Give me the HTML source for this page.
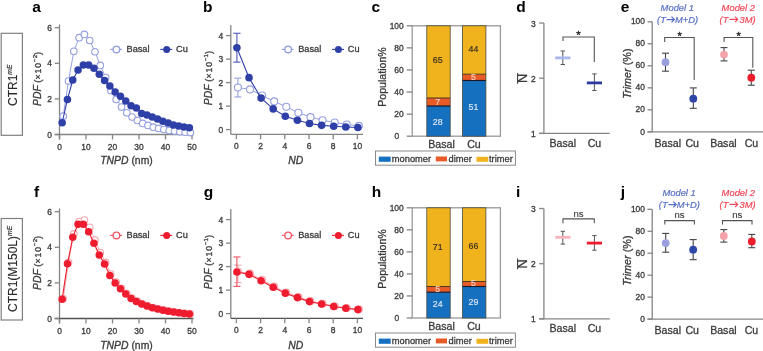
<!DOCTYPE html>
<html><head><meta charset="utf-8"><style>
html,body{margin:0;padding:0;background:#fff;width:763px;height:351px;overflow:hidden;}
svg{display:block;filter:blur(0.35px);font-family:"Liberation Sans", sans-serif;}
</style></head><body>
<svg width="763" height="351" viewBox="0 0 763 351" font-family='"Liberation Sans", sans-serif'>
<rect width="763" height="351" fill="#fff"/>
<rect x="1.2" y="33.3" width="21.2" height="102" fill="none" stroke="#808080" stroke-width="1.2"/>
<text transform="translate(16.90,85.20) rotate(-90)" font-size="12" text-anchor="middle" fill="#2a2a2a" stroke="#2a2a2a" stroke-width="0.15">CTR1<tspan dy="-4.6" font-size="6.8" font-style="italic">mE</tspan></text>
<rect x="1.2" y="218.5" width="21.2" height="101.5" fill="none" stroke="#808080" stroke-width="1.2"/>
<text transform="translate(16.90,268.90) rotate(-90)" font-size="12" text-anchor="middle" fill="#2a2a2a" stroke="#2a2a2a" stroke-width="0.15">CTR1(M150L)<tspan dy="-4.6" font-size="6.8" font-style="italic">mE</tspan></text>
<text x="36.5" y="11.6" font-size="15.5" text-anchor="middle" fill="#000" font-weight="bold">a</text>
<text x="207.7" y="11.6" font-size="15.5" text-anchor="middle" fill="#000" font-weight="bold">b</text>
<text x="375.7" y="11.6" font-size="15.5" text-anchor="middle" fill="#000" font-weight="bold">c</text>
<text x="520.9" y="11.6" font-size="15.5" text-anchor="middle" fill="#000" font-weight="bold">d</text>
<text x="625" y="11.6" font-size="15.5" text-anchor="middle" fill="#000" font-weight="bold">e</text>
<text x="36.7" y="196.7" font-size="15.5" text-anchor="middle" fill="#000" font-weight="bold">f</text>
<text x="208.4" y="196.7" font-size="15.5" text-anchor="middle" fill="#000" font-weight="bold">g</text>
<text x="376.4" y="196.7" font-size="15.5" text-anchor="middle" fill="#000" font-weight="bold">h</text>
<text x="518.2" y="196.7" font-size="15.5" text-anchor="middle" fill="#000" font-weight="bold">i</text>
<text x="622.8" y="196.7" font-size="15.5" text-anchor="middle" fill="#000" font-weight="bold">j</text>
<line x1="59.50" y1="24.50" x2="59.50" y2="139.50" stroke="#858585" stroke-width="1.3"/>
<line x1="54.70" y1="134.50" x2="193.50" y2="134.50" stroke="#858585" stroke-width="1.3"/>
<line x1="54.70" y1="134.50" x2="59.50" y2="134.50" stroke="#858585" stroke-width="1.3"/>
<text transform="translate(52.00,137.60) scale(0.87,1)" font-size="9.7" text-anchor="end" fill="#3c3c3c" stroke="#3c3c3c" stroke-width="0.35">0</text>
<line x1="54.70" y1="98.90" x2="59.50" y2="98.90" stroke="#858585" stroke-width="1.3"/>
<text transform="translate(52.00,102.00) scale(0.87,1)" font-size="9.7" text-anchor="end" fill="#3c3c3c" stroke="#3c3c3c" stroke-width="0.35">2</text>
<line x1="54.70" y1="63.30" x2="59.50" y2="63.30" stroke="#858585" stroke-width="1.3"/>
<text transform="translate(52.00,66.40) scale(0.87,1)" font-size="9.7" text-anchor="end" fill="#3c3c3c" stroke="#3c3c3c" stroke-width="0.35">4</text>
<line x1="54.70" y1="27.70" x2="59.50" y2="27.70" stroke="#858585" stroke-width="1.3"/>
<text transform="translate(52.00,30.80) scale(0.87,1)" font-size="9.7" text-anchor="end" fill="#3c3c3c" stroke="#3c3c3c" stroke-width="0.35">6</text>
<line x1="59.50" y1="134.50" x2="59.50" y2="139.50" stroke="#858585" stroke-width="1.3"/>
<text transform="translate(59.50,149.60) scale(0.87,1)" font-size="9.7" text-anchor="middle" fill="#3c3c3c" stroke="#3c3c3c" stroke-width="0.35">0</text>
<line x1="86.00" y1="134.50" x2="86.00" y2="139.50" stroke="#858585" stroke-width="1.3"/>
<text transform="translate(86.00,149.60) scale(0.87,1)" font-size="9.7" text-anchor="middle" fill="#3c3c3c" stroke="#3c3c3c" stroke-width="0.35">10</text>
<line x1="112.50" y1="134.50" x2="112.50" y2="139.50" stroke="#858585" stroke-width="1.3"/>
<text transform="translate(112.50,149.60) scale(0.87,1)" font-size="9.7" text-anchor="middle" fill="#3c3c3c" stroke="#3c3c3c" stroke-width="0.35">20</text>
<line x1="139.00" y1="134.50" x2="139.00" y2="139.50" stroke="#858585" stroke-width="1.3"/>
<text transform="translate(139.00,149.60) scale(0.87,1)" font-size="9.7" text-anchor="middle" fill="#3c3c3c" stroke="#3c3c3c" stroke-width="0.35">30</text>
<line x1="165.50" y1="134.50" x2="165.50" y2="139.50" stroke="#858585" stroke-width="1.3"/>
<text transform="translate(165.50,149.60) scale(0.87,1)" font-size="9.7" text-anchor="middle" fill="#3c3c3c" stroke="#3c3c3c" stroke-width="0.35">40</text>
<line x1="192.00" y1="134.50" x2="192.00" y2="139.50" stroke="#858585" stroke-width="1.3"/>
<text transform="translate(192.00,149.60) scale(0.87,1)" font-size="9.7" text-anchor="middle" fill="#3c3c3c" stroke="#3c3c3c" stroke-width="0.35">50</text>
<text x="126.50" y="163.80" font-size="10.4" text-anchor="middle" fill="#3a3a3a" stroke="#3a3a3a" stroke-width="0.3"><tspan font-style="italic">TNPD</tspan> (nm)</text>
<text transform="translate(40.60,78.90) rotate(-90)" font-size="10.4" text-anchor="middle" fill="#3a3a3a" stroke="#3a3a3a" stroke-width="0.3"><tspan font-style="italic">PDF</tspan><tspan font-size="9.4"> (</tspan><tspan font-size="8.6" letter-spacing="1.0">×10</tspan><tspan dy="-3.4" font-size="6.2">−2</tspan><tspan dy="3.4" font-size="9.4">)</tspan></text>
<polyline points="63.21,116.17 68.51,81.10 73.81,51.37 79.11,37.67 84.41,34.46 89.71,40.52 95.01,51.73 100.31,65.44 105.61,77.54 110.91,90.53 116.21,99.43 121.51,107.09 126.81,112.78 132.11,117.06 137.41,120.44 142.71,123.46 148.01,125.42 153.31,127.20 158.61,128.45 163.91,129.52 169.21,130.58 174.51,131.12 179.81,131.83 185.11,132.19 190.41,132.54" fill="none" stroke="#959fe0" stroke-width="1.0"/>
<circle cx="63.21" cy="116.17" r="3.3" fill="#fff" stroke="#959fe0" stroke-width="1.1"/>
<circle cx="68.51" cy="81.10" r="3.3" fill="#fff" stroke="#959fe0" stroke-width="1.1"/>
<circle cx="73.81" cy="51.37" r="3.3" fill="#fff" stroke="#959fe0" stroke-width="1.1"/>
<circle cx="79.11" cy="37.67" r="3.3" fill="#fff" stroke="#959fe0" stroke-width="1.1"/>
<circle cx="84.41" cy="34.46" r="3.3" fill="#fff" stroke="#959fe0" stroke-width="1.1"/>
<circle cx="89.71" cy="40.52" r="3.3" fill="#fff" stroke="#959fe0" stroke-width="1.1"/>
<circle cx="95.01" cy="51.73" r="3.3" fill="#fff" stroke="#959fe0" stroke-width="1.1"/>
<circle cx="100.31" cy="65.44" r="3.3" fill="#fff" stroke="#959fe0" stroke-width="1.1"/>
<circle cx="105.61" cy="77.54" r="3.3" fill="#fff" stroke="#959fe0" stroke-width="1.1"/>
<circle cx="110.91" cy="90.53" r="3.3" fill="#fff" stroke="#959fe0" stroke-width="1.1"/>
<circle cx="116.21" cy="99.43" r="3.3" fill="#fff" stroke="#959fe0" stroke-width="1.1"/>
<circle cx="121.51" cy="107.09" r="3.3" fill="#fff" stroke="#959fe0" stroke-width="1.1"/>
<circle cx="126.81" cy="112.78" r="3.3" fill="#fff" stroke="#959fe0" stroke-width="1.1"/>
<circle cx="132.11" cy="117.06" r="3.3" fill="#fff" stroke="#959fe0" stroke-width="1.1"/>
<circle cx="137.41" cy="120.44" r="3.3" fill="#fff" stroke="#959fe0" stroke-width="1.1"/>
<circle cx="142.71" cy="123.46" r="3.3" fill="#fff" stroke="#959fe0" stroke-width="1.1"/>
<circle cx="148.01" cy="125.42" r="3.3" fill="#fff" stroke="#959fe0" stroke-width="1.1"/>
<circle cx="153.31" cy="127.20" r="3.3" fill="#fff" stroke="#959fe0" stroke-width="1.1"/>
<circle cx="158.61" cy="128.45" r="3.3" fill="#fff" stroke="#959fe0" stroke-width="1.1"/>
<circle cx="163.91" cy="129.52" r="3.3" fill="#fff" stroke="#959fe0" stroke-width="1.1"/>
<circle cx="169.21" cy="130.58" r="3.3" fill="#fff" stroke="#959fe0" stroke-width="1.1"/>
<circle cx="174.51" cy="131.12" r="3.3" fill="#fff" stroke="#959fe0" stroke-width="1.1"/>
<circle cx="179.81" cy="131.83" r="3.3" fill="#fff" stroke="#959fe0" stroke-width="1.1"/>
<circle cx="185.11" cy="132.19" r="3.3" fill="#fff" stroke="#959fe0" stroke-width="1.1"/>
<circle cx="190.41" cy="132.54" r="3.3" fill="#fff" stroke="#959fe0" stroke-width="1.1"/>
<polyline points="62.15,122.75 67.45,99.43 72.75,80.03 78.05,70.06 83.35,65.08 88.65,65.08 93.95,68.28 99.25,74.34 104.55,80.57 109.85,86.08 115.15,91.96 120.45,96.23 125.75,101.04 131.05,105.66 136.35,107.98 141.65,113.50 146.95,114.92 152.25,117.06 157.55,119.01 162.85,121.15 168.15,122.93 173.45,124.89 178.75,125.96 184.05,127.02 189.35,127.74" fill="none" stroke="#2e3fa8" stroke-width="1.1"/>
<circle cx="62.15" cy="122.75" r="3.75" fill="#2e3fa8" stroke="none" stroke-width="0"/>
<circle cx="67.45" cy="99.43" r="3.75" fill="#2e3fa8" stroke="none" stroke-width="0"/>
<circle cx="72.75" cy="80.03" r="3.75" fill="#2e3fa8" stroke="none" stroke-width="0"/>
<circle cx="78.05" cy="70.06" r="3.75" fill="#2e3fa8" stroke="none" stroke-width="0"/>
<circle cx="83.35" cy="65.08" r="3.75" fill="#2e3fa8" stroke="none" stroke-width="0"/>
<circle cx="88.65" cy="65.08" r="3.75" fill="#2e3fa8" stroke="none" stroke-width="0"/>
<circle cx="93.95" cy="68.28" r="3.75" fill="#2e3fa8" stroke="none" stroke-width="0"/>
<circle cx="99.25" cy="74.34" r="3.75" fill="#2e3fa8" stroke="none" stroke-width="0"/>
<circle cx="104.55" cy="80.57" r="3.75" fill="#2e3fa8" stroke="none" stroke-width="0"/>
<circle cx="109.85" cy="86.08" r="3.75" fill="#2e3fa8" stroke="none" stroke-width="0"/>
<circle cx="115.15" cy="91.96" r="3.75" fill="#2e3fa8" stroke="none" stroke-width="0"/>
<circle cx="120.45" cy="96.23" r="3.75" fill="#2e3fa8" stroke="none" stroke-width="0"/>
<circle cx="125.75" cy="101.04" r="3.75" fill="#2e3fa8" stroke="none" stroke-width="0"/>
<circle cx="131.05" cy="105.66" r="3.75" fill="#2e3fa8" stroke="none" stroke-width="0"/>
<circle cx="136.35" cy="107.98" r="3.75" fill="#2e3fa8" stroke="none" stroke-width="0"/>
<circle cx="141.65" cy="113.50" r="3.75" fill="#2e3fa8" stroke="none" stroke-width="0"/>
<circle cx="146.95" cy="114.92" r="3.75" fill="#2e3fa8" stroke="none" stroke-width="0"/>
<circle cx="152.25" cy="117.06" r="3.75" fill="#2e3fa8" stroke="none" stroke-width="0"/>
<circle cx="157.55" cy="119.01" r="3.75" fill="#2e3fa8" stroke="none" stroke-width="0"/>
<circle cx="162.85" cy="121.15" r="3.75" fill="#2e3fa8" stroke="none" stroke-width="0"/>
<circle cx="168.15" cy="122.93" r="3.75" fill="#2e3fa8" stroke="none" stroke-width="0"/>
<circle cx="173.45" cy="124.89" r="3.75" fill="#2e3fa8" stroke="none" stroke-width="0"/>
<circle cx="178.75" cy="125.96" r="3.75" fill="#2e3fa8" stroke="none" stroke-width="0"/>
<circle cx="184.05" cy="127.02" r="3.75" fill="#2e3fa8" stroke="none" stroke-width="0"/>
<circle cx="189.35" cy="127.74" r="3.75" fill="#2e3fa8" stroke="none" stroke-width="0"/>
<line x1="110.00" y1="49.40" x2="122.00" y2="49.40" stroke="#959fe0" stroke-width="1.1"/>
<circle cx="116.40" cy="49.40" r="3.3" fill="#fff" stroke="#959fe0" stroke-width="1.4"/>
<text x="126.50" y="52.10" font-size="9.2" text-anchor="start" fill="#3a3a3a" stroke="#3a3a3a" stroke-width="0.3" font-weight="normal" font-style="normal">Basal</text>
<line x1="160.30" y1="49.40" x2="172.30" y2="49.40" stroke="#2e3fa8" stroke-width="1.1"/>
<circle cx="166.70" cy="49.40" r="3.5" fill="#2e3fa8" stroke="none" stroke-width="0"/>
<text x="176.10" y="52.10" font-size="9.2" text-anchor="start" fill="#3a3a3a" stroke="#3a3a3a" stroke-width="0.3" font-weight="normal" font-style="normal">Cu</text>
<line x1="59.50" y1="208.50" x2="59.50" y2="323.50" stroke="#858585" stroke-width="1.3"/>
<line x1="54.70" y1="318.50" x2="193.50" y2="318.50" stroke="#505050" stroke-width="1.3"/>
<line x1="54.70" y1="318.50" x2="59.50" y2="318.50" stroke="#858585" stroke-width="1.3"/>
<text transform="translate(52.00,321.60) scale(0.87,1)" font-size="9.7" text-anchor="end" fill="#3c3c3c" stroke="#3c3c3c" stroke-width="0.35">0</text>
<line x1="54.70" y1="282.90" x2="59.50" y2="282.90" stroke="#858585" stroke-width="1.3"/>
<text transform="translate(52.00,286.00) scale(0.87,1)" font-size="9.7" text-anchor="end" fill="#3c3c3c" stroke="#3c3c3c" stroke-width="0.35">2</text>
<line x1="54.70" y1="247.30" x2="59.50" y2="247.30" stroke="#858585" stroke-width="1.3"/>
<text transform="translate(52.00,250.40) scale(0.87,1)" font-size="9.7" text-anchor="end" fill="#3c3c3c" stroke="#3c3c3c" stroke-width="0.35">4</text>
<line x1="54.70" y1="211.70" x2="59.50" y2="211.70" stroke="#858585" stroke-width="1.3"/>
<text transform="translate(52.00,214.80) scale(0.87,1)" font-size="9.7" text-anchor="end" fill="#3c3c3c" stroke="#3c3c3c" stroke-width="0.35">6</text>
<line x1="59.50" y1="318.50" x2="59.50" y2="323.50" stroke="#858585" stroke-width="1.3"/>
<text transform="translate(59.50,333.60) scale(0.87,1)" font-size="9.7" text-anchor="middle" fill="#3c3c3c" stroke="#3c3c3c" stroke-width="0.35">0</text>
<line x1="86.00" y1="318.50" x2="86.00" y2="323.50" stroke="#858585" stroke-width="1.3"/>
<text transform="translate(86.00,333.60) scale(0.87,1)" font-size="9.7" text-anchor="middle" fill="#3c3c3c" stroke="#3c3c3c" stroke-width="0.35">10</text>
<line x1="112.50" y1="318.50" x2="112.50" y2="323.50" stroke="#858585" stroke-width="1.3"/>
<text transform="translate(112.50,333.60) scale(0.87,1)" font-size="9.7" text-anchor="middle" fill="#3c3c3c" stroke="#3c3c3c" stroke-width="0.35">20</text>
<line x1="139.00" y1="318.50" x2="139.00" y2="323.50" stroke="#858585" stroke-width="1.3"/>
<text transform="translate(139.00,333.60) scale(0.87,1)" font-size="9.7" text-anchor="middle" fill="#3c3c3c" stroke="#3c3c3c" stroke-width="0.35">30</text>
<line x1="165.50" y1="318.50" x2="165.50" y2="323.50" stroke="#858585" stroke-width="1.3"/>
<text transform="translate(165.50,333.60) scale(0.87,1)" font-size="9.7" text-anchor="middle" fill="#3c3c3c" stroke="#3c3c3c" stroke-width="0.35">40</text>
<line x1="192.00" y1="318.50" x2="192.00" y2="323.50" stroke="#858585" stroke-width="1.3"/>
<text transform="translate(192.00,333.60) scale(0.87,1)" font-size="9.7" text-anchor="middle" fill="#3c3c3c" stroke="#3c3c3c" stroke-width="0.35">50</text>
<text x="126.50" y="348.70" font-size="10.4" text-anchor="middle" fill="#3a3a3a" stroke="#3a3a3a" stroke-width="0.3"><tspan font-style="italic">TNPD</tspan> (nm)</text>
<text transform="translate(40.60,262.90) rotate(-90)" font-size="10.4" text-anchor="middle" fill="#3a3a3a" stroke="#3a3a3a" stroke-width="0.3"><tspan font-style="italic">PDF</tspan><tspan font-size="9.4"> (</tspan><tspan font-size="8.6" letter-spacing="1.0">×10</tspan><tspan dy="-3.4" font-size="6.2">−2</tspan><tspan dy="3.4" font-size="9.4">)</tspan></text>
<polyline points="63.21,298.56 68.51,262.43 73.81,233.95 79.11,221.49 84.41,220.07 89.71,227.36 95.01,240.18 100.31,252.64 105.61,262.43 110.91,274.00 116.21,282.01 121.51,288.24 126.81,293.58 132.11,298.03 137.41,301.06 142.71,303.73 148.01,305.86 153.31,307.64 158.61,308.89 163.91,309.96 169.21,311.02 174.51,311.91 179.81,312.63 185.11,313.34 190.41,313.87" fill="none" stroke="#f6a8b0" stroke-width="1.0"/>
<circle cx="63.21" cy="298.56" r="3.3" fill="#fff" stroke="#f6a8b0" stroke-width="1.1"/>
<circle cx="68.51" cy="262.43" r="3.3" fill="#fff" stroke="#f6a8b0" stroke-width="1.1"/>
<circle cx="73.81" cy="233.95" r="3.3" fill="#fff" stroke="#f6a8b0" stroke-width="1.1"/>
<circle cx="79.11" cy="221.49" r="3.3" fill="#fff" stroke="#f6a8b0" stroke-width="1.1"/>
<circle cx="84.41" cy="220.07" r="3.3" fill="#fff" stroke="#f6a8b0" stroke-width="1.1"/>
<circle cx="89.71" cy="227.36" r="3.3" fill="#fff" stroke="#f6a8b0" stroke-width="1.1"/>
<circle cx="95.01" cy="240.18" r="3.3" fill="#fff" stroke="#f6a8b0" stroke-width="1.1"/>
<circle cx="100.31" cy="252.64" r="3.3" fill="#fff" stroke="#f6a8b0" stroke-width="1.1"/>
<circle cx="105.61" cy="262.43" r="3.3" fill="#fff" stroke="#f6a8b0" stroke-width="1.1"/>
<circle cx="110.91" cy="274.00" r="3.3" fill="#fff" stroke="#f6a8b0" stroke-width="1.1"/>
<circle cx="116.21" cy="282.01" r="3.3" fill="#fff" stroke="#f6a8b0" stroke-width="1.1"/>
<circle cx="121.51" cy="288.24" r="3.3" fill="#fff" stroke="#f6a8b0" stroke-width="1.1"/>
<circle cx="126.81" cy="293.58" r="3.3" fill="#fff" stroke="#f6a8b0" stroke-width="1.1"/>
<circle cx="132.11" cy="298.03" r="3.3" fill="#fff" stroke="#f6a8b0" stroke-width="1.1"/>
<circle cx="137.41" cy="301.06" r="3.3" fill="#fff" stroke="#f6a8b0" stroke-width="1.1"/>
<circle cx="142.71" cy="303.73" r="3.3" fill="#fff" stroke="#f6a8b0" stroke-width="1.1"/>
<circle cx="148.01" cy="305.86" r="3.3" fill="#fff" stroke="#f6a8b0" stroke-width="1.1"/>
<circle cx="153.31" cy="307.64" r="3.3" fill="#fff" stroke="#f6a8b0" stroke-width="1.1"/>
<circle cx="158.61" cy="308.89" r="3.3" fill="#fff" stroke="#f6a8b0" stroke-width="1.1"/>
<circle cx="163.91" cy="309.96" r="3.3" fill="#fff" stroke="#f6a8b0" stroke-width="1.1"/>
<circle cx="169.21" cy="311.02" r="3.3" fill="#fff" stroke="#f6a8b0" stroke-width="1.1"/>
<circle cx="174.51" cy="311.91" r="3.3" fill="#fff" stroke="#f6a8b0" stroke-width="1.1"/>
<circle cx="179.81" cy="312.63" r="3.3" fill="#fff" stroke="#f6a8b0" stroke-width="1.1"/>
<circle cx="185.11" cy="313.34" r="3.3" fill="#fff" stroke="#f6a8b0" stroke-width="1.1"/>
<circle cx="190.41" cy="313.87" r="3.3" fill="#fff" stroke="#f6a8b0" stroke-width="1.1"/>
<polyline points="62.15,299.28 67.45,263.85 72.75,237.33 78.05,224.16 83.35,224.34 88.65,231.64 93.95,243.21 99.25,254.95 104.55,264.03 109.85,275.42 115.15,283.08 120.45,288.77 125.75,294.11 131.05,298.56 136.35,301.41 141.65,304.08 146.95,306.04 152.25,307.82 157.55,309.07 162.85,310.13 168.15,311.20 173.45,311.91 178.75,312.80 184.05,313.52 189.35,314.05" fill="none" stroke="#ee1c2e" stroke-width="1.1"/>
<circle cx="62.15" cy="299.28" r="3.75" fill="#ee1c2e" stroke="none" stroke-width="0"/>
<circle cx="67.45" cy="263.85" r="3.75" fill="#ee1c2e" stroke="none" stroke-width="0"/>
<circle cx="72.75" cy="237.33" r="3.75" fill="#ee1c2e" stroke="none" stroke-width="0"/>
<circle cx="78.05" cy="224.16" r="3.75" fill="#ee1c2e" stroke="none" stroke-width="0"/>
<circle cx="83.35" cy="224.34" r="3.75" fill="#ee1c2e" stroke="none" stroke-width="0"/>
<circle cx="88.65" cy="231.64" r="3.75" fill="#ee1c2e" stroke="none" stroke-width="0"/>
<circle cx="93.95" cy="243.21" r="3.75" fill="#ee1c2e" stroke="none" stroke-width="0"/>
<circle cx="99.25" cy="254.95" r="3.75" fill="#ee1c2e" stroke="none" stroke-width="0"/>
<circle cx="104.55" cy="264.03" r="3.75" fill="#ee1c2e" stroke="none" stroke-width="0"/>
<circle cx="109.85" cy="275.42" r="3.75" fill="#ee1c2e" stroke="none" stroke-width="0"/>
<circle cx="115.15" cy="283.08" r="3.75" fill="#ee1c2e" stroke="none" stroke-width="0"/>
<circle cx="120.45" cy="288.77" r="3.75" fill="#ee1c2e" stroke="none" stroke-width="0"/>
<circle cx="125.75" cy="294.11" r="3.75" fill="#ee1c2e" stroke="none" stroke-width="0"/>
<circle cx="131.05" cy="298.56" r="3.75" fill="#ee1c2e" stroke="none" stroke-width="0"/>
<circle cx="136.35" cy="301.41" r="3.75" fill="#ee1c2e" stroke="none" stroke-width="0"/>
<circle cx="141.65" cy="304.08" r="3.75" fill="#ee1c2e" stroke="none" stroke-width="0"/>
<circle cx="146.95" cy="306.04" r="3.75" fill="#ee1c2e" stroke="none" stroke-width="0"/>
<circle cx="152.25" cy="307.82" r="3.75" fill="#ee1c2e" stroke="none" stroke-width="0"/>
<circle cx="157.55" cy="309.07" r="3.75" fill="#ee1c2e" stroke="none" stroke-width="0"/>
<circle cx="162.85" cy="310.13" r="3.75" fill="#ee1c2e" stroke="none" stroke-width="0"/>
<circle cx="168.15" cy="311.20" r="3.75" fill="#ee1c2e" stroke="none" stroke-width="0"/>
<circle cx="173.45" cy="311.91" r="3.75" fill="#ee1c2e" stroke="none" stroke-width="0"/>
<circle cx="178.75" cy="312.80" r="3.75" fill="#ee1c2e" stroke="none" stroke-width="0"/>
<circle cx="184.05" cy="313.52" r="3.75" fill="#ee1c2e" stroke="none" stroke-width="0"/>
<circle cx="189.35" cy="314.05" r="3.75" fill="#ee1c2e" stroke="none" stroke-width="0"/>
<line x1="110.00" y1="235.40" x2="122.00" y2="235.40" stroke="#f05a6a" stroke-width="1.1"/>
<circle cx="116.40" cy="235.40" r="3.3" fill="#fff" stroke="#f05a6a" stroke-width="1.4"/>
<text x="126.50" y="238.10" font-size="9.2" text-anchor="start" fill="#3a3a3a" stroke="#3a3a3a" stroke-width="0.3" font-weight="normal" font-style="normal">Basal</text>
<line x1="160.30" y1="235.40" x2="172.30" y2="235.40" stroke="#ee1c2e" stroke-width="1.1"/>
<circle cx="166.70" cy="235.40" r="3.5" fill="#ee1c2e" stroke="none" stroke-width="0"/>
<text x="176.10" y="238.10" font-size="9.2" text-anchor="start" fill="#3a3a3a" stroke="#3a3a3a" stroke-width="0.3" font-weight="normal" font-style="normal">Cu</text>
<line x1="230.80" y1="25.00" x2="230.80" y2="134.30" stroke="#858585" stroke-width="1.3"/>
<line x1="230.80" y1="134.30" x2="363.00" y2="134.30" stroke="#858585" stroke-width="1.3"/>
<line x1="226.00" y1="129.60" x2="230.80" y2="129.60" stroke="#858585" stroke-width="1.3"/>
<text transform="translate(223.30,132.70) scale(0.87,1)" font-size="9.7" text-anchor="end" fill="#3c3c3c" stroke="#3c3c3c" stroke-width="0.35">0</text>
<line x1="226.00" y1="106.10" x2="230.80" y2="106.10" stroke="#858585" stroke-width="1.3"/>
<text transform="translate(223.30,109.20) scale(0.87,1)" font-size="9.7" text-anchor="end" fill="#3c3c3c" stroke="#3c3c3c" stroke-width="0.35">1</text>
<line x1="226.00" y1="82.60" x2="230.80" y2="82.60" stroke="#858585" stroke-width="1.3"/>
<text transform="translate(223.30,85.70) scale(0.87,1)" font-size="9.7" text-anchor="end" fill="#3c3c3c" stroke="#3c3c3c" stroke-width="0.35">2</text>
<line x1="226.00" y1="59.10" x2="230.80" y2="59.10" stroke="#858585" stroke-width="1.3"/>
<text transform="translate(223.30,62.20) scale(0.87,1)" font-size="9.7" text-anchor="end" fill="#3c3c3c" stroke="#3c3c3c" stroke-width="0.35">3</text>
<line x1="226.00" y1="35.60" x2="230.80" y2="35.60" stroke="#858585" stroke-width="1.3"/>
<text transform="translate(223.30,38.70) scale(0.87,1)" font-size="9.7" text-anchor="end" fill="#3c3c3c" stroke="#3c3c3c" stroke-width="0.35">4</text>
<line x1="236.40" y1="134.30" x2="236.40" y2="139.30" stroke="#858585" stroke-width="1.3"/>
<text transform="translate(236.40,149.40) scale(0.87,1)" font-size="9.7" text-anchor="middle" fill="#3c3c3c" stroke="#3c3c3c" stroke-width="0.35">0</text>
<line x1="260.60" y1="134.30" x2="260.60" y2="139.30" stroke="#858585" stroke-width="1.3"/>
<text transform="translate(260.60,149.40) scale(0.87,1)" font-size="9.7" text-anchor="middle" fill="#3c3c3c" stroke="#3c3c3c" stroke-width="0.35">2</text>
<line x1="284.80" y1="134.30" x2="284.80" y2="139.30" stroke="#858585" stroke-width="1.3"/>
<text transform="translate(284.80,149.40) scale(0.87,1)" font-size="9.7" text-anchor="middle" fill="#3c3c3c" stroke="#3c3c3c" stroke-width="0.35">4</text>
<line x1="309.00" y1="134.30" x2="309.00" y2="139.30" stroke="#858585" stroke-width="1.3"/>
<text transform="translate(309.00,149.40) scale(0.87,1)" font-size="9.7" text-anchor="middle" fill="#3c3c3c" stroke="#3c3c3c" stroke-width="0.35">6</text>
<line x1="333.20" y1="134.30" x2="333.20" y2="139.30" stroke="#858585" stroke-width="1.3"/>
<text transform="translate(333.20,149.40) scale(0.87,1)" font-size="9.7" text-anchor="middle" fill="#3c3c3c" stroke="#3c3c3c" stroke-width="0.35">8</text>
<line x1="357.40" y1="134.30" x2="357.40" y2="139.30" stroke="#858585" stroke-width="1.3"/>
<text transform="translate(357.40,149.40) scale(0.87,1)" font-size="9.7" text-anchor="middle" fill="#3c3c3c" stroke="#3c3c3c" stroke-width="0.35">10</text>
<text x="295.80" y="163.90" font-size="10.4" text-anchor="middle" fill="#3a3a3a" stroke="#3a3a3a" stroke-width="0.3" font-weight="normal" font-style="italic">ND</text>
<text transform="translate(211.60,78.00) rotate(-90)" font-size="10.4" text-anchor="middle" fill="#3a3a3a" stroke="#3a3a3a" stroke-width="0.3"><tspan font-style="italic">PDF</tspan><tspan font-size="9.4"> (</tspan><tspan font-size="8.6" letter-spacing="1.0">×10</tspan><tspan dy="-3.4" font-size="6.2">−1</tspan><tspan dy="3.4" font-size="9.4">)</tspan></text>
<line x1="237.90" y1="78.13" x2="237.90" y2="96.94" stroke="#959fe0" stroke-width="1.1"/>
<line x1="234.30" y1="78.13" x2="241.50" y2="78.13" stroke="#959fe0" stroke-width="1.1"/>
<line x1="234.30" y1="96.94" x2="241.50" y2="96.94" stroke="#959fe0" stroke-width="1.1"/>
<line x1="236.90" y1="33.25" x2="236.90" y2="62.15" stroke="#4a5ab8" stroke-width="1.1"/>
<line x1="233.30" y1="33.25" x2="240.50" y2="33.25" stroke="#4a5ab8" stroke-width="1.1"/>
<line x1="233.30" y1="62.15" x2="240.50" y2="62.15" stroke="#4a5ab8" stroke-width="1.1"/>
<polyline points="237.90,87.53 250.00,89.41 262.10,95.53 274.20,101.40 286.30,106.80 298.40,112.68 310.50,117.14 322.60,120.20 334.70,122.55 346.80,124.43 358.90,125.84" fill="none" stroke="#959fe0" stroke-width="1.0"/>
<circle cx="237.90" cy="87.53" r="3.5" fill="#fff" stroke="#959fe0" stroke-width="1.1"/>
<circle cx="250.00" cy="89.41" r="3.5" fill="#fff" stroke="#959fe0" stroke-width="1.1"/>
<circle cx="262.10" cy="95.53" r="3.5" fill="#fff" stroke="#959fe0" stroke-width="1.1"/>
<circle cx="274.20" cy="101.40" r="3.5" fill="#fff" stroke="#959fe0" stroke-width="1.1"/>
<circle cx="286.30" cy="106.80" r="3.5" fill="#fff" stroke="#959fe0" stroke-width="1.1"/>
<circle cx="298.40" cy="112.68" r="3.5" fill="#fff" stroke="#959fe0" stroke-width="1.1"/>
<circle cx="310.50" cy="117.14" r="3.5" fill="#fff" stroke="#959fe0" stroke-width="1.1"/>
<circle cx="322.60" cy="120.20" r="3.5" fill="#fff" stroke="#959fe0" stroke-width="1.1"/>
<circle cx="334.70" cy="122.55" r="3.5" fill="#fff" stroke="#959fe0" stroke-width="1.1"/>
<circle cx="346.80" cy="124.43" r="3.5" fill="#fff" stroke="#959fe0" stroke-width="1.1"/>
<circle cx="358.90" cy="125.84" r="3.5" fill="#fff" stroke="#959fe0" stroke-width="1.1"/>
<polyline points="236.90,47.82 249.00,77.66 261.10,98.11 273.20,108.92 285.30,116.20 297.40,120.20 309.50,123.49 321.60,125.37 333.70,126.31 345.80,127.02 357.90,127.48" fill="none" stroke="#2e3fa8" stroke-width="1.1"/>
<circle cx="236.90" cy="47.82" r="3.8" fill="#2e3fa8" stroke="none" stroke-width="0"/>
<circle cx="249.00" cy="77.66" r="3.8" fill="#2e3fa8" stroke="none" stroke-width="0"/>
<circle cx="261.10" cy="98.11" r="3.8" fill="#2e3fa8" stroke="none" stroke-width="0"/>
<circle cx="273.20" cy="108.92" r="3.8" fill="#2e3fa8" stroke="none" stroke-width="0"/>
<circle cx="285.30" cy="116.20" r="3.8" fill="#2e3fa8" stroke="none" stroke-width="0"/>
<circle cx="297.40" cy="120.20" r="3.8" fill="#2e3fa8" stroke="none" stroke-width="0"/>
<circle cx="309.50" cy="123.49" r="3.8" fill="#2e3fa8" stroke="none" stroke-width="0"/>
<circle cx="321.60" cy="125.37" r="3.8" fill="#2e3fa8" stroke="none" stroke-width="0"/>
<circle cx="333.70" cy="126.31" r="3.8" fill="#2e3fa8" stroke="none" stroke-width="0"/>
<circle cx="345.80" cy="127.02" r="3.8" fill="#2e3fa8" stroke="none" stroke-width="0"/>
<circle cx="357.90" cy="127.48" r="3.8" fill="#2e3fa8" stroke="none" stroke-width="0"/>
<line x1="281.70" y1="49.40" x2="293.70" y2="49.40" stroke="#959fe0" stroke-width="1.1"/>
<circle cx="288.10" cy="49.40" r="3.3" fill="#fff" stroke="#959fe0" stroke-width="1.4"/>
<text x="298.20" y="52.10" font-size="9.2" text-anchor="start" fill="#3a3a3a" stroke="#3a3a3a" stroke-width="0.3" font-weight="normal" font-style="normal">Basal</text>
<line x1="332.00" y1="49.40" x2="344.00" y2="49.40" stroke="#2e3fa8" stroke-width="1.1"/>
<circle cx="338.40" cy="49.40" r="3.5" fill="#2e3fa8" stroke="none" stroke-width="0"/>
<text x="347.80" y="52.10" font-size="9.2" text-anchor="start" fill="#3a3a3a" stroke="#3a3a3a" stroke-width="0.3" font-weight="normal" font-style="normal">Cu</text>
<line x1="230.80" y1="209.00" x2="230.80" y2="318.30" stroke="#858585" stroke-width="1.3"/>
<line x1="230.80" y1="318.30" x2="363.00" y2="318.30" stroke="#505050" stroke-width="1.3"/>
<line x1="226.00" y1="313.60" x2="230.80" y2="313.60" stroke="#858585" stroke-width="1.3"/>
<text transform="translate(223.30,316.70) scale(0.87,1)" font-size="9.7" text-anchor="end" fill="#3c3c3c" stroke="#3c3c3c" stroke-width="0.35">0</text>
<line x1="226.00" y1="290.10" x2="230.80" y2="290.10" stroke="#858585" stroke-width="1.3"/>
<text transform="translate(223.30,293.20) scale(0.87,1)" font-size="9.7" text-anchor="end" fill="#3c3c3c" stroke="#3c3c3c" stroke-width="0.35">1</text>
<line x1="226.00" y1="266.60" x2="230.80" y2="266.60" stroke="#858585" stroke-width="1.3"/>
<text transform="translate(223.30,269.70) scale(0.87,1)" font-size="9.7" text-anchor="end" fill="#3c3c3c" stroke="#3c3c3c" stroke-width="0.35">2</text>
<line x1="226.00" y1="243.10" x2="230.80" y2="243.10" stroke="#858585" stroke-width="1.3"/>
<text transform="translate(223.30,246.20) scale(0.87,1)" font-size="9.7" text-anchor="end" fill="#3c3c3c" stroke="#3c3c3c" stroke-width="0.35">3</text>
<line x1="226.00" y1="219.60" x2="230.80" y2="219.60" stroke="#858585" stroke-width="1.3"/>
<text transform="translate(223.30,222.70) scale(0.87,1)" font-size="9.7" text-anchor="end" fill="#3c3c3c" stroke="#3c3c3c" stroke-width="0.35">4</text>
<line x1="236.40" y1="318.30" x2="236.40" y2="323.30" stroke="#858585" stroke-width="1.3"/>
<text transform="translate(236.40,333.40) scale(0.87,1)" font-size="9.7" text-anchor="middle" fill="#3c3c3c" stroke="#3c3c3c" stroke-width="0.35">0</text>
<line x1="260.60" y1="318.30" x2="260.60" y2="323.30" stroke="#858585" stroke-width="1.3"/>
<text transform="translate(260.60,333.40) scale(0.87,1)" font-size="9.7" text-anchor="middle" fill="#3c3c3c" stroke="#3c3c3c" stroke-width="0.35">2</text>
<line x1="284.80" y1="318.30" x2="284.80" y2="323.30" stroke="#858585" stroke-width="1.3"/>
<text transform="translate(284.80,333.40) scale(0.87,1)" font-size="9.7" text-anchor="middle" fill="#3c3c3c" stroke="#3c3c3c" stroke-width="0.35">4</text>
<line x1="309.00" y1="318.30" x2="309.00" y2="323.30" stroke="#858585" stroke-width="1.3"/>
<text transform="translate(309.00,333.40) scale(0.87,1)" font-size="9.7" text-anchor="middle" fill="#3c3c3c" stroke="#3c3c3c" stroke-width="0.35">6</text>
<line x1="333.20" y1="318.30" x2="333.20" y2="323.30" stroke="#858585" stroke-width="1.3"/>
<text transform="translate(333.20,333.40) scale(0.87,1)" font-size="9.7" text-anchor="middle" fill="#3c3c3c" stroke="#3c3c3c" stroke-width="0.35">8</text>
<line x1="357.40" y1="318.30" x2="357.40" y2="323.30" stroke="#858585" stroke-width="1.3"/>
<text transform="translate(357.40,333.40) scale(0.87,1)" font-size="9.7" text-anchor="middle" fill="#3c3c3c" stroke="#3c3c3c" stroke-width="0.35">10</text>
<text x="295.80" y="348.80" font-size="10.4" text-anchor="middle" fill="#3a3a3a" stroke="#3a3a3a" stroke-width="0.3" font-weight="normal" font-style="italic">ND</text>
<text transform="translate(211.60,262.00) rotate(-90)" font-size="10.4" text-anchor="middle" fill="#3a3a3a" stroke="#3a3a3a" stroke-width="0.3"><tspan font-style="italic">PDF</tspan><tspan font-size="9.4"> (</tspan><tspan font-size="8.6" letter-spacing="1.0">×10</tspan><tspan dy="-3.4" font-size="6.2">−1</tspan><tspan dy="3.4" font-size="9.4">)</tspan></text>
<line x1="237.90" y1="265.19" x2="237.90" y2="282.58" stroke="#f6a8b0" stroke-width="1.1"/>
<line x1="234.30" y1="265.19" x2="241.50" y2="265.19" stroke="#f6a8b0" stroke-width="1.1"/>
<line x1="234.30" y1="282.58" x2="241.50" y2="282.58" stroke="#f6a8b0" stroke-width="1.1"/>
<line x1="236.90" y1="256.97" x2="236.90" y2="286.34" stroke="#f05060" stroke-width="1.1"/>
<line x1="233.30" y1="256.97" x2="240.50" y2="256.97" stroke="#f05060" stroke-width="1.1"/>
<line x1="233.30" y1="286.34" x2="240.50" y2="286.34" stroke="#f05060" stroke-width="1.1"/>
<polyline points="237.90,271.30 250.00,273.65 262.10,279.76 274.20,286.58 286.30,292.45 298.40,297.15 310.50,301.15 322.60,303.73 334.70,306.31 346.80,307.96 358.90,309.37" fill="none" stroke="#f6a8b0" stroke-width="1.0"/>
<circle cx="237.90" cy="271.30" r="3.5" fill="#fff" stroke="#f6a8b0" stroke-width="1.1"/>
<circle cx="250.00" cy="273.65" r="3.5" fill="#fff" stroke="#f6a8b0" stroke-width="1.1"/>
<circle cx="262.10" cy="279.76" r="3.5" fill="#fff" stroke="#f6a8b0" stroke-width="1.1"/>
<circle cx="274.20" cy="286.58" r="3.5" fill="#fff" stroke="#f6a8b0" stroke-width="1.1"/>
<circle cx="286.30" cy="292.45" r="3.5" fill="#fff" stroke="#f6a8b0" stroke-width="1.1"/>
<circle cx="298.40" cy="297.15" r="3.5" fill="#fff" stroke="#f6a8b0" stroke-width="1.1"/>
<circle cx="310.50" cy="301.15" r="3.5" fill="#fff" stroke="#f6a8b0" stroke-width="1.1"/>
<circle cx="322.60" cy="303.73" r="3.5" fill="#fff" stroke="#f6a8b0" stroke-width="1.1"/>
<circle cx="334.70" cy="306.31" r="3.5" fill="#fff" stroke="#f6a8b0" stroke-width="1.1"/>
<circle cx="346.80" cy="307.96" r="3.5" fill="#fff" stroke="#f6a8b0" stroke-width="1.1"/>
<circle cx="358.90" cy="309.37" r="3.5" fill="#fff" stroke="#f6a8b0" stroke-width="1.1"/>
<polyline points="236.90,272.00 249.00,274.36 261.10,280.70 273.20,287.28 285.30,293.16 297.40,297.62 309.50,301.62 321.60,303.97 333.70,306.55 345.80,308.20 357.90,309.61" fill="none" stroke="#ee1c2e" stroke-width="1.1"/>
<circle cx="236.90" cy="272.00" r="3.8" fill="#ee1c2e" stroke="none" stroke-width="0"/>
<circle cx="249.00" cy="274.36" r="3.8" fill="#ee1c2e" stroke="none" stroke-width="0"/>
<circle cx="261.10" cy="280.70" r="3.8" fill="#ee1c2e" stroke="none" stroke-width="0"/>
<circle cx="273.20" cy="287.28" r="3.8" fill="#ee1c2e" stroke="none" stroke-width="0"/>
<circle cx="285.30" cy="293.16" r="3.8" fill="#ee1c2e" stroke="none" stroke-width="0"/>
<circle cx="297.40" cy="297.62" r="3.8" fill="#ee1c2e" stroke="none" stroke-width="0"/>
<circle cx="309.50" cy="301.62" r="3.8" fill="#ee1c2e" stroke="none" stroke-width="0"/>
<circle cx="321.60" cy="303.97" r="3.8" fill="#ee1c2e" stroke="none" stroke-width="0"/>
<circle cx="333.70" cy="306.55" r="3.8" fill="#ee1c2e" stroke="none" stroke-width="0"/>
<circle cx="345.80" cy="308.20" r="3.8" fill="#ee1c2e" stroke="none" stroke-width="0"/>
<circle cx="357.90" cy="309.61" r="3.8" fill="#ee1c2e" stroke="none" stroke-width="0"/>
<line x1="281.70" y1="235.40" x2="293.70" y2="235.40" stroke="#f05a6a" stroke-width="1.1"/>
<circle cx="288.10" cy="235.40" r="3.3" fill="#fff" stroke="#f05a6a" stroke-width="1.4"/>
<text x="298.20" y="238.10" font-size="9.2" text-anchor="start" fill="#3a3a3a" stroke="#3a3a3a" stroke-width="0.3" font-weight="normal" font-style="normal">Basal</text>
<line x1="332.00" y1="235.40" x2="344.00" y2="235.40" stroke="#ee1c2e" stroke-width="1.1"/>
<circle cx="338.40" cy="235.40" r="3.5" fill="#ee1c2e" stroke="none" stroke-width="0"/>
<text x="347.80" y="238.10" font-size="9.2" text-anchor="start" fill="#3a3a3a" stroke="#3a3a3a" stroke-width="0.3" font-weight="normal" font-style="normal">Cu</text>
<rect x="412.2" y="25.8" width="88.19999999999999" height="110.39999999999999" fill="none" stroke="#9a9a9a" stroke-width="1.3"/>
<line x1="406.70" y1="136.20" x2="412.20" y2="136.20" stroke="#858585" stroke-width="1.3"/>
<text transform="translate(399.20,138.90) scale(0.87,1)" font-size="9.7" text-anchor="end" fill="#3c3c3c" stroke="#3c3c3c" stroke-width="0.35">0</text>
<line x1="406.70" y1="114.12" x2="412.20" y2="114.12" stroke="#858585" stroke-width="1.3"/>
<text transform="translate(403.70,116.82) scale(0.87,1)" font-size="9.7" text-anchor="end" fill="#3c3c3c" stroke="#3c3c3c" stroke-width="0.35">20</text>
<line x1="406.70" y1="92.04" x2="412.20" y2="92.04" stroke="#858585" stroke-width="1.3"/>
<text transform="translate(403.70,94.74) scale(0.87,1)" font-size="9.7" text-anchor="end" fill="#3c3c3c" stroke="#3c3c3c" stroke-width="0.35">40</text>
<line x1="406.70" y1="69.96" x2="412.20" y2="69.96" stroke="#858585" stroke-width="1.3"/>
<text transform="translate(403.70,72.66) scale(0.87,1)" font-size="9.7" text-anchor="end" fill="#3c3c3c" stroke="#3c3c3c" stroke-width="0.35">60</text>
<line x1="406.70" y1="47.88" x2="412.20" y2="47.88" stroke="#858585" stroke-width="1.3"/>
<text transform="translate(403.70,50.58) scale(0.87,1)" font-size="9.7" text-anchor="end" fill="#3c3c3c" stroke="#3c3c3c" stroke-width="0.35">80</text>
<line x1="406.70" y1="25.80" x2="412.20" y2="25.80" stroke="#858585" stroke-width="1.3"/>
<text transform="translate(403.70,28.50) scale(0.87,1)" font-size="9.7" text-anchor="end" fill="#3c3c3c" stroke="#3c3c3c" stroke-width="0.35">100</text>
<text transform="translate(385.60,77.00) rotate(-90)" font-size="10.6" text-anchor="middle" fill="#3a3a3a" stroke="#3a3a3a" stroke-width="0.3">Population%</text>
<rect x="426.80" y="106.00" width="23.40" height="30.20" fill="#1670c0" stroke="none" stroke-width="0"/>
<rect x="426.80" y="98.00" width="23.40" height="8.00" fill="#e85a26" stroke="none" stroke-width="0"/>
<rect x="426.80" y="25.80" width="23.40" height="72.20" fill="#f0b31e" stroke="none" stroke-width="0"/>
<rect x="426.80" y="25.80" width="23.40" height="110.40" fill="none" stroke="#4a4a40" stroke-width="0.8"/>
<line x1="426.80" y1="98.00" x2="450.20" y2="98.00" stroke="#3a2a20" stroke-width="0.9"/>
<line x1="426.80" y1="106.00" x2="450.20" y2="106.00" stroke="#1a1a2a" stroke-width="1.2"/>
<text x="437.70" y="124.90" font-size="8.8" text-anchor="middle" fill="#dfe8f4" stroke="#dfe8f4" stroke-width="0.15" font-weight="normal" font-style="normal">28</text>
<text x="437.70" y="104.50" font-size="8.8" text-anchor="middle" fill="#f6d0c0" stroke="#f6d0c0" stroke-width="0.15" font-weight="normal" font-style="normal">7</text>
<text x="437.70" y="63.20" font-size="8.8" text-anchor="middle" fill="#3a3222" stroke="#3a3222" stroke-width="0.2" font-weight="normal" font-style="normal">65</text>
<rect x="462.50" y="80.50" width="23.40" height="55.70" fill="#1670c0" stroke="none" stroke-width="0"/>
<rect x="462.50" y="74.20" width="23.40" height="6.30" fill="#e85a26" stroke="none" stroke-width="0"/>
<rect x="462.50" y="25.80" width="23.40" height="48.40" fill="#f0b31e" stroke="none" stroke-width="0"/>
<rect x="462.50" y="25.80" width="23.40" height="110.40" fill="none" stroke="#4a4a40" stroke-width="0.8"/>
<line x1="462.50" y1="74.20" x2="485.90" y2="74.20" stroke="#3a2a20" stroke-width="0.9"/>
<line x1="462.50" y1="80.50" x2="485.90" y2="80.50" stroke="#1a1a2a" stroke-width="1.2"/>
<text x="473.40" y="109.90" font-size="8.8" text-anchor="middle" fill="#dfe8f4" stroke="#dfe8f4" stroke-width="0.15" font-weight="normal" font-style="normal">51</text>
<text x="473.40" y="79.50" font-size="8.8" text-anchor="middle" fill="#f6d0c0" stroke="#f6d0c0" stroke-width="0.15" font-weight="normal" font-style="normal">5</text>
<text x="473.40" y="51.70" font-size="8.8" text-anchor="middle" fill="#3a3222" stroke="#3a3222" stroke-width="0.2" font-weight="normal" font-style="normal">44</text>
<text x="441.50" y="147.50" font-size="10.6" text-anchor="middle" fill="#3a3a3a" stroke="#3a3a3a" stroke-width="0.3" font-weight="normal" font-style="normal">Basal</text>
<text x="474.00" y="147.50" font-size="10.6" text-anchor="middle" fill="#3a3a3a" stroke="#3a3a3a" stroke-width="0.3" font-weight="normal" font-style="normal">Cu</text>
<rect x="375.5" y="151" width="139.9" height="14.2" fill="#fff" stroke="#8a8a8a" stroke-width="1"/>
<rect x="378.80" y="156.60" width="11.90" height="5.20" fill="#1670c0" stroke="none" stroke-width="0"/>
<text x="391.80" y="162.40" font-size="9.3" text-anchor="start" fill="#3a3a3a" stroke="#3a3a3a" stroke-width="0.3" font-weight="normal" font-style="normal">monomer</text>
<rect x="435.80" y="156.50" width="11.20" height="4.90" fill="#e85a26" stroke="none" stroke-width="0"/>
<text x="448.50" y="161.60" font-size="9.3" text-anchor="start" fill="#3a3a3a" stroke="#3a3a3a" stroke-width="0.3" font-weight="normal" font-style="normal">dimer</text>
<rect x="476.50" y="156.80" width="11.80" height="5.00" fill="#f0b31e" stroke="none" stroke-width="0"/>
<text x="489.00" y="161.60" font-size="9.3" text-anchor="start" fill="#3a3a3a" stroke="#3a3a3a" stroke-width="0.3" font-weight="normal" font-style="normal">trimer</text>
<rect x="412.2" y="207.8" width="88.19999999999999" height="110.19999999999999" fill="none" stroke="#9a9a9a" stroke-width="1.3"/>
<line x1="406.70" y1="318.00" x2="412.20" y2="318.00" stroke="#858585" stroke-width="1.3"/>
<text transform="translate(399.20,320.70) scale(0.87,1)" font-size="9.7" text-anchor="end" fill="#3c3c3c" stroke="#3c3c3c" stroke-width="0.35">0</text>
<line x1="406.70" y1="295.96" x2="412.20" y2="295.96" stroke="#858585" stroke-width="1.3"/>
<text transform="translate(403.70,298.66) scale(0.87,1)" font-size="9.7" text-anchor="end" fill="#3c3c3c" stroke="#3c3c3c" stroke-width="0.35">20</text>
<line x1="406.70" y1="273.92" x2="412.20" y2="273.92" stroke="#858585" stroke-width="1.3"/>
<text transform="translate(403.70,276.62) scale(0.87,1)" font-size="9.7" text-anchor="end" fill="#3c3c3c" stroke="#3c3c3c" stroke-width="0.35">40</text>
<line x1="406.70" y1="251.88" x2="412.20" y2="251.88" stroke="#858585" stroke-width="1.3"/>
<text transform="translate(403.70,254.58) scale(0.87,1)" font-size="9.7" text-anchor="end" fill="#3c3c3c" stroke="#3c3c3c" stroke-width="0.35">60</text>
<line x1="406.70" y1="229.84" x2="412.20" y2="229.84" stroke="#858585" stroke-width="1.3"/>
<text transform="translate(403.70,232.54) scale(0.87,1)" font-size="9.7" text-anchor="end" fill="#3c3c3c" stroke="#3c3c3c" stroke-width="0.35">80</text>
<line x1="406.70" y1="207.80" x2="412.20" y2="207.80" stroke="#858585" stroke-width="1.3"/>
<text transform="translate(403.70,210.50) scale(0.87,1)" font-size="9.7" text-anchor="end" fill="#3c3c3c" stroke="#3c3c3c" stroke-width="0.35">100</text>
<text transform="translate(385.60,259.00) rotate(-90)" font-size="10.6" text-anchor="middle" fill="#3a3a3a" stroke="#3a3a3a" stroke-width="0.3">Population%</text>
<rect x="426.80" y="292.20" width="23.40" height="25.80" fill="#1670c0" stroke="none" stroke-width="0"/>
<rect x="426.80" y="286.50" width="23.40" height="5.70" fill="#e85a26" stroke="none" stroke-width="0"/>
<rect x="426.80" y="207.80" width="23.40" height="78.70" fill="#f0b31e" stroke="none" stroke-width="0"/>
<rect x="426.80" y="207.80" width="23.40" height="110.20" fill="none" stroke="#4a4a40" stroke-width="0.8"/>
<line x1="426.80" y1="286.50" x2="450.20" y2="286.50" stroke="#3a2a20" stroke-width="0.9"/>
<line x1="426.80" y1="292.20" x2="450.20" y2="292.20" stroke="#1a1a2a" stroke-width="1.2"/>
<text x="437.70" y="307.20" font-size="8.8" text-anchor="middle" fill="#dfe8f4" stroke="#dfe8f4" stroke-width="0.15" font-weight="normal" font-style="normal">24</text>
<text x="437.70" y="291.70" font-size="8.8" text-anchor="middle" fill="#f6d0c0" stroke="#f6d0c0" stroke-width="0.15" font-weight="normal" font-style="normal">5</text>
<text x="437.70" y="249.70" font-size="8.8" text-anchor="middle" fill="#3a3222" stroke="#3a3222" stroke-width="0.2" font-weight="normal" font-style="normal">71</text>
<rect x="462.50" y="286.50" width="23.40" height="31.50" fill="#1670c0" stroke="none" stroke-width="0"/>
<rect x="462.50" y="281.50" width="23.40" height="5.00" fill="#e85a26" stroke="none" stroke-width="0"/>
<rect x="462.50" y="207.80" width="23.40" height="73.70" fill="#f0b31e" stroke="none" stroke-width="0"/>
<rect x="462.50" y="207.80" width="23.40" height="110.20" fill="none" stroke="#4a4a40" stroke-width="0.8"/>
<line x1="462.50" y1="281.50" x2="485.90" y2="281.50" stroke="#3a2a20" stroke-width="0.9"/>
<line x1="462.50" y1="286.50" x2="485.90" y2="286.50" stroke="#1a1a2a" stroke-width="1.2"/>
<text x="473.40" y="304.90" font-size="8.8" text-anchor="middle" fill="#dfe8f4" stroke="#dfe8f4" stroke-width="0.15" font-weight="normal" font-style="normal">29</text>
<text x="473.40" y="286.20" font-size="8.8" text-anchor="middle" fill="#f6d0c0" stroke="#f6d0c0" stroke-width="0.15" font-weight="normal" font-style="normal">5</text>
<text x="473.40" y="248.50" font-size="8.8" text-anchor="middle" fill="#3a3222" stroke="#3a3222" stroke-width="0.2" font-weight="normal" font-style="normal">66</text>
<text x="441.50" y="329.50" font-size="10.6" text-anchor="middle" fill="#3a3a3a" stroke="#3a3a3a" stroke-width="0.3" font-weight="normal" font-style="normal">Basal</text>
<text x="474.00" y="329.50" font-size="10.6" text-anchor="middle" fill="#3a3a3a" stroke="#3a3a3a" stroke-width="0.3" font-weight="normal" font-style="normal">Cu</text>
<rect x="375.5" y="333" width="139.9" height="14.2" fill="#fff" stroke="#8a8a8a" stroke-width="1"/>
<rect x="378.80" y="338.60" width="11.90" height="5.20" fill="#1670c0" stroke="none" stroke-width="0"/>
<text x="391.80" y="344.40" font-size="9.3" text-anchor="start" fill="#3a3a3a" stroke="#3a3a3a" stroke-width="0.3" font-weight="normal" font-style="normal">monomer</text>
<rect x="435.80" y="338.50" width="11.20" height="4.90" fill="#e85a26" stroke="none" stroke-width="0"/>
<text x="448.50" y="343.60" font-size="9.3" text-anchor="start" fill="#3a3a3a" stroke="#3a3a3a" stroke-width="0.3" font-weight="normal" font-style="normal">dimer</text>
<rect x="476.50" y="338.80" width="11.80" height="5.00" fill="#f0b31e" stroke="none" stroke-width="0"/>
<text x="489.00" y="343.60" font-size="9.3" text-anchor="start" fill="#3a3a3a" stroke="#3a3a3a" stroke-width="0.3" font-weight="normal" font-style="normal">trimer</text>
<line x1="543.90" y1="23.00" x2="543.90" y2="133.40" stroke="#858585" stroke-width="1.3"/>
<line x1="539.10" y1="133.40" x2="609.80" y2="133.40" stroke="#858585" stroke-width="1.3"/>
<line x1="539.10" y1="133.40" x2="543.90" y2="133.40" stroke="#858585" stroke-width="1.3"/>
<text transform="translate(535.70,136.90) scale(0.87,1)" font-size="9.7" text-anchor="end" fill="#3c3c3c" stroke="#3c3c3c" stroke-width="0.35">1</text>
<line x1="539.10" y1="78.20" x2="543.90" y2="78.20" stroke="#858585" stroke-width="1.3"/>
<text transform="translate(535.70,81.70) scale(0.87,1)" font-size="9.7" text-anchor="end" fill="#3c3c3c" stroke="#3c3c3c" stroke-width="0.35">2</text>
<line x1="539.10" y1="23.00" x2="543.90" y2="23.00" stroke="#858585" stroke-width="1.3"/>
<text transform="translate(535.70,26.50) scale(0.87,1)" font-size="9.7" text-anchor="end" fill="#3c3c3c" stroke="#3c3c3c" stroke-width="0.35">3</text>
<text transform="translate(527.30,78.40) rotate(-90)" font-size="12.8" text-anchor="middle" fill="#3a3a3a" stroke="#3a3a3a" stroke-width="0.3">N</text>
<line x1="517.60" y1="72.90" x2="517.60" y2="83.70" stroke="#3a3a3a" stroke-width="1.1"/>
<line x1="562.80" y1="51.00" x2="562.80" y2="64.50" stroke="#555" stroke-width="1.0"/>
<line x1="560.60" y1="51.00" x2="565.00" y2="51.00" stroke="#555" stroke-width="1.0"/>
<line x1="560.60" y1="64.50" x2="565.00" y2="64.50" stroke="#555" stroke-width="1.0"/>
<line x1="555.20" y1="57.90" x2="570.40" y2="57.90" stroke="#a8b8ea" stroke-width="2.8"/>
<line x1="594.40" y1="73.90" x2="594.40" y2="90.50" stroke="#555" stroke-width="1.0"/>
<line x1="592.20" y1="73.90" x2="596.60" y2="73.90" stroke="#555" stroke-width="1.0"/>
<line x1="592.20" y1="90.50" x2="596.60" y2="90.50" stroke="#555" stroke-width="1.0"/>
<line x1="586.80" y1="82.90" x2="602.00" y2="82.90" stroke="#2b3a9c" stroke-width="2.8"/>
<polyline points="563,41 563,37 594.3,37 594.3,62" fill="none" stroke="#555" stroke-width="1.1"/>
<text x="578.60" y="39.30" font-size="11.5" text-anchor="middle" fill="#222" stroke="#222" stroke-width="0.35" font-weight="normal" font-style="normal">*</text>
<text x="562.80" y="146.80" font-size="10.6" text-anchor="middle" fill="#3a3a3a" stroke="#3a3a3a" stroke-width="0.3" font-weight="normal" font-style="normal">Basal</text>
<text x="594.50" y="146.80" font-size="10.6" text-anchor="middle" fill="#3a3a3a" stroke="#3a3a3a" stroke-width="0.3" font-weight="normal" font-style="normal">Cu</text>
<line x1="543.90" y1="208.50" x2="543.90" y2="318.90" stroke="#858585" stroke-width="1.3"/>
<line x1="539.10" y1="318.90" x2="609.80" y2="318.90" stroke="#858585" stroke-width="1.3"/>
<line x1="539.10" y1="318.90" x2="543.90" y2="318.90" stroke="#858585" stroke-width="1.3"/>
<text transform="translate(535.70,322.40) scale(0.87,1)" font-size="9.7" text-anchor="end" fill="#3c3c3c" stroke="#3c3c3c" stroke-width="0.35">1</text>
<line x1="539.10" y1="263.70" x2="543.90" y2="263.70" stroke="#858585" stroke-width="1.3"/>
<text transform="translate(535.70,267.20) scale(0.87,1)" font-size="9.7" text-anchor="end" fill="#3c3c3c" stroke="#3c3c3c" stroke-width="0.35">2</text>
<line x1="539.10" y1="208.50" x2="543.90" y2="208.50" stroke="#858585" stroke-width="1.3"/>
<text transform="translate(535.70,212.00) scale(0.87,1)" font-size="9.7" text-anchor="end" fill="#3c3c3c" stroke="#3c3c3c" stroke-width="0.35">3</text>
<text transform="translate(527.30,263.90) rotate(-90)" font-size="12.8" text-anchor="middle" fill="#3a3a3a" stroke="#3a3a3a" stroke-width="0.3">N</text>
<line x1="517.60" y1="258.40" x2="517.60" y2="269.20" stroke="#3a3a3a" stroke-width="1.1"/>
<line x1="562.80" y1="231.30" x2="562.80" y2="244.10" stroke="#555" stroke-width="1.0"/>
<line x1="560.60" y1="231.30" x2="565.00" y2="231.30" stroke="#555" stroke-width="1.0"/>
<line x1="560.60" y1="244.10" x2="565.00" y2="244.10" stroke="#555" stroke-width="1.0"/>
<line x1="555.20" y1="237.30" x2="570.40" y2="237.30" stroke="#f7b4bc" stroke-width="2.8"/>
<line x1="594.40" y1="235.60" x2="594.40" y2="250.20" stroke="#555" stroke-width="1.0"/>
<line x1="592.20" y1="235.60" x2="596.60" y2="235.60" stroke="#555" stroke-width="1.0"/>
<line x1="592.20" y1="250.20" x2="596.60" y2="250.20" stroke="#555" stroke-width="1.0"/>
<line x1="586.80" y1="243.10" x2="602.00" y2="243.10" stroke="#ec1c2c" stroke-width="2.8"/>
<polyline points="563,223.3 563,218.9 594.3,218.9 594.3,223.3" fill="none" stroke="#555" stroke-width="1.1"/>
<text x="578.50" y="216.70" font-size="9.6" text-anchor="middle" fill="#3a3a3a" stroke="#3a3a3a" stroke-width="0.1" font-weight="normal" font-style="normal">ns</text>
<text x="562.80" y="332.30" font-size="10.6" text-anchor="middle" fill="#3a3a3a" stroke="#3a3a3a" stroke-width="0.3" font-weight="normal" font-style="normal">Basal</text>
<text x="594.50" y="332.30" font-size="10.6" text-anchor="middle" fill="#3a3a3a" stroke="#3a3a3a" stroke-width="0.3" font-weight="normal" font-style="normal">Cu</text>
<line x1="652.20" y1="21.80" x2="652.20" y2="131.90" stroke="#858585" stroke-width="1.3"/>
<line x1="647.50" y1="131.90" x2="763.00" y2="131.90" stroke="#858585" stroke-width="1.3"/>
<line x1="647.50" y1="131.90" x2="652.20" y2="131.90" stroke="#858585" stroke-width="1.3"/>
<text transform="translate(645.00,134.50) scale(0.87,1)" font-size="9.7" text-anchor="end" fill="#3c3c3c" stroke="#3c3c3c" stroke-width="0.35">0</text>
<line x1="647.50" y1="109.88" x2="652.20" y2="109.88" stroke="#858585" stroke-width="1.3"/>
<text transform="translate(645.00,112.48) scale(0.87,1)" font-size="9.7" text-anchor="end" fill="#3c3c3c" stroke="#3c3c3c" stroke-width="0.35">20</text>
<line x1="647.50" y1="87.86" x2="652.20" y2="87.86" stroke="#858585" stroke-width="1.3"/>
<text transform="translate(645.00,90.46) scale(0.87,1)" font-size="9.7" text-anchor="end" fill="#3c3c3c" stroke="#3c3c3c" stroke-width="0.35">40</text>
<line x1="647.50" y1="65.84" x2="652.20" y2="65.84" stroke="#858585" stroke-width="1.3"/>
<text transform="translate(645.00,68.44) scale(0.87,1)" font-size="9.7" text-anchor="end" fill="#3c3c3c" stroke="#3c3c3c" stroke-width="0.35">60</text>
<line x1="647.50" y1="43.82" x2="652.20" y2="43.82" stroke="#858585" stroke-width="1.3"/>
<text transform="translate(645.00,46.42) scale(0.87,1)" font-size="9.7" text-anchor="end" fill="#3c3c3c" stroke="#3c3c3c" stroke-width="0.35">80</text>
<line x1="647.50" y1="21.80" x2="652.20" y2="21.80" stroke="#858585" stroke-width="1.3"/>
<text transform="translate(645.00,24.40) scale(0.87,1)" font-size="9.7" text-anchor="end" fill="#3c3c3c" stroke="#3c3c3c" stroke-width="0.35">100</text>
<text transform="translate(631.20,73.60) rotate(-90)" font-size="10.8" text-anchor="middle" fill="#3a3a3a" stroke="#3a3a3a" stroke-width="0.3"><tspan font-style="italic">Trimer</tspan> (%)</text>
<line x1="665.50" y1="53.20" x2="665.50" y2="71.20" stroke="#444" stroke-width="1.1"/>
<line x1="662.00" y1="53.20" x2="669.00" y2="53.20" stroke="#444" stroke-width="1.1"/>
<line x1="662.00" y1="71.20" x2="669.00" y2="71.20" stroke="#444" stroke-width="1.1"/>
<circle cx="665.50" cy="62.20" r="3.9" fill="#9aa0dd" stroke="none" stroke-width="0"/>
<line x1="693.30" y1="87.90" x2="693.30" y2="108.30" stroke="#444" stroke-width="1.1"/>
<line x1="689.80" y1="87.90" x2="696.80" y2="87.90" stroke="#444" stroke-width="1.1"/>
<line x1="689.80" y1="108.30" x2="696.80" y2="108.30" stroke="#444" stroke-width="1.1"/>
<circle cx="693.30" cy="98.70" r="3.9" fill="#2f48a8" stroke="none" stroke-width="0"/>
<line x1="724.00" y1="47.60" x2="724.00" y2="60.90" stroke="#444" stroke-width="1.1"/>
<line x1="720.50" y1="47.60" x2="727.50" y2="47.60" stroke="#444" stroke-width="1.1"/>
<line x1="720.50" y1="60.90" x2="727.50" y2="60.90" stroke="#444" stroke-width="1.1"/>
<circle cx="724.00" cy="54.60" r="3.9" fill="#f4a3aa" stroke="none" stroke-width="0"/>
<line x1="751.30" y1="70.20" x2="751.30" y2="85.20" stroke="#444" stroke-width="1.1"/>
<line x1="747.80" y1="70.20" x2="754.80" y2="70.20" stroke="#444" stroke-width="1.1"/>
<line x1="747.80" y1="85.20" x2="754.80" y2="85.20" stroke="#444" stroke-width="1.1"/>
<circle cx="751.30" cy="77.70" r="3.9" fill="#ec1c2c" stroke="none" stroke-width="0"/>
<polyline points="664.7,42 664.7,37.5 694.2,37.5 694.2,80" fill="none" stroke="#555" stroke-width="1.1"/>
<text x="679.65" y="40.00" font-size="11" text-anchor="middle" fill="#222" stroke="#222" stroke-width="0.35" font-weight="normal" font-style="normal">*</text>
<polyline points="724.1,42 724.1,37.5 752.8,37.5 752.8,67.7" fill="none" stroke="#555" stroke-width="1.1"/>
<text x="738.65" y="40.00" font-size="11" text-anchor="middle" fill="#222" stroke="#222" stroke-width="0.35" font-weight="normal" font-style="normal">*</text>
<text x="667.80" y="146.50" font-size="10.6" text-anchor="middle" fill="#3a3a3a" stroke="#3a3a3a" stroke-width="0.3" font-weight="normal" font-style="normal">Basal</text>
<text x="692.20" y="146.50" font-size="10.6" text-anchor="middle" fill="#3a3a3a" stroke="#3a3a3a" stroke-width="0.3" font-weight="normal" font-style="normal">Cu</text>
<text x="723.40" y="146.50" font-size="10.6" text-anchor="middle" fill="#3a3a3a" stroke="#3a3a3a" stroke-width="0.3" font-weight="normal" font-style="normal">Basal</text>
<text x="751.40" y="146.50" font-size="10.6" text-anchor="middle" fill="#3a3a3a" stroke="#3a3a3a" stroke-width="0.3" font-weight="normal" font-style="normal">Cu</text>
<text x="677.30" y="11.20" font-size="9.4" text-anchor="middle" fill="#5870c4" stroke="#5870c4" stroke-width="0.2" font-weight="normal" font-style="italic">Model 1</text>
<text x="665.90" y="22.90" font-size="9.4" text-anchor="end" fill="#5870c4" stroke="#5870c4" stroke-width="0.2" font-weight="normal" font-style="italic">(T</text>
<path d="M666.60,19.50H673.80M671.50,16.60L674.40,19.50L671.50,22.40" fill="none" stroke="#5870c4" stroke-width="1.25" stroke-linejoin="miter"/>
<text x="674.90" y="22.90" font-size="9.4" text-anchor="start" fill="#5870c4" stroke="#5870c4" stroke-width="0.2" font-weight="normal" font-style="italic">M+D)</text>
<text x="738.30" y="11.20" font-size="9.4" text-anchor="middle" fill="#f04858" stroke="#f04858" stroke-width="0.2" font-weight="normal" font-style="italic">Model 2</text>
<text x="728.40" y="22.90" font-size="9.4" text-anchor="end" fill="#f04858" stroke="#f04858" stroke-width="0.2" font-weight="normal" font-style="italic">(T</text>
<path d="M729.40,19.40H737.10M735.00,16.70L737.70,19.40L735.00,22.10" fill="none" stroke="#f04858" stroke-width="1.1" stroke-linejoin="miter"/>
<text x="739.60" y="22.90" font-size="9.4" text-anchor="start" fill="#f04858" stroke="#f04858" stroke-width="0.2" font-weight="normal" font-style="italic">3M)</text>
<line x1="652.20" y1="209.30" x2="652.20" y2="319.10" stroke="#858585" stroke-width="1.3"/>
<line x1="647.50" y1="319.10" x2="763.00" y2="319.10" stroke="#858585" stroke-width="1.3"/>
<line x1="647.50" y1="319.10" x2="652.20" y2="319.10" stroke="#858585" stroke-width="1.3"/>
<text transform="translate(645.00,321.70) scale(0.87,1)" font-size="9.7" text-anchor="end" fill="#3c3c3c" stroke="#3c3c3c" stroke-width="0.35">0</text>
<line x1="647.50" y1="297.14" x2="652.20" y2="297.14" stroke="#858585" stroke-width="1.3"/>
<text transform="translate(645.00,299.74) scale(0.87,1)" font-size="9.7" text-anchor="end" fill="#3c3c3c" stroke="#3c3c3c" stroke-width="0.35">20</text>
<line x1="647.50" y1="275.18" x2="652.20" y2="275.18" stroke="#858585" stroke-width="1.3"/>
<text transform="translate(645.00,277.78) scale(0.87,1)" font-size="9.7" text-anchor="end" fill="#3c3c3c" stroke="#3c3c3c" stroke-width="0.35">40</text>
<line x1="647.50" y1="253.22" x2="652.20" y2="253.22" stroke="#858585" stroke-width="1.3"/>
<text transform="translate(645.00,255.82) scale(0.87,1)" font-size="9.7" text-anchor="end" fill="#3c3c3c" stroke="#3c3c3c" stroke-width="0.35">60</text>
<line x1="647.50" y1="231.26" x2="652.20" y2="231.26" stroke="#858585" stroke-width="1.3"/>
<text transform="translate(645.00,233.86) scale(0.87,1)" font-size="9.7" text-anchor="end" fill="#3c3c3c" stroke="#3c3c3c" stroke-width="0.35">80</text>
<line x1="647.50" y1="209.30" x2="652.20" y2="209.30" stroke="#858585" stroke-width="1.3"/>
<text transform="translate(645.00,211.90) scale(0.87,1)" font-size="9.7" text-anchor="end" fill="#3c3c3c" stroke="#3c3c3c" stroke-width="0.35">100</text>
<text transform="translate(631.20,260.60) rotate(-90)" font-size="10.8" text-anchor="middle" fill="#3a3a3a" stroke="#3a3a3a" stroke-width="0.3"><tspan font-style="italic">Trimer</tspan> (%)</text>
<line x1="665.70" y1="233.40" x2="665.70" y2="252.20" stroke="#444" stroke-width="1.1"/>
<line x1="662.20" y1="233.40" x2="669.20" y2="233.40" stroke="#444" stroke-width="1.1"/>
<line x1="662.20" y1="252.20" x2="669.20" y2="252.20" stroke="#444" stroke-width="1.1"/>
<circle cx="665.70" cy="243.10" r="3.9" fill="#9aa0dd" stroke="none" stroke-width="0"/>
<line x1="693.20" y1="239.60" x2="693.20" y2="259.70" stroke="#444" stroke-width="1.1"/>
<line x1="689.70" y1="239.60" x2="696.70" y2="239.60" stroke="#444" stroke-width="1.1"/>
<line x1="689.70" y1="259.70" x2="696.70" y2="259.70" stroke="#444" stroke-width="1.1"/>
<circle cx="693.20" cy="249.70" r="3.9" fill="#2f48a8" stroke="none" stroke-width="0"/>
<line x1="723.80" y1="229.60" x2="723.80" y2="242.10" stroke="#444" stroke-width="1.1"/>
<line x1="720.30" y1="229.60" x2="727.30" y2="229.60" stroke="#444" stroke-width="1.1"/>
<line x1="720.30" y1="242.10" x2="727.30" y2="242.10" stroke="#444" stroke-width="1.1"/>
<circle cx="723.80" cy="235.90" r="3.9" fill="#f4a3aa" stroke="none" stroke-width="0"/>
<line x1="751.80" y1="234.40" x2="751.80" y2="247.70" stroke="#444" stroke-width="1.1"/>
<line x1="748.30" y1="234.40" x2="755.30" y2="234.40" stroke="#444" stroke-width="1.1"/>
<line x1="748.30" y1="247.70" x2="755.30" y2="247.70" stroke="#444" stroke-width="1.1"/>
<circle cx="751.80" cy="241.40" r="3.9" fill="#ec1c2c" stroke="none" stroke-width="0"/>
<polyline points="664.8,224.4 664.8,220.6 694.4,220.6 694.4,224.4" fill="none" stroke="#555" stroke-width="1.1"/>
<text x="679.60" y="218.00" font-size="9.6" text-anchor="middle" fill="#3a3a3a" stroke="#3a3a3a" stroke-width="0.1" font-weight="normal" font-style="normal">ns</text>
<polyline points="722.5,224.4 722.5,220.6 752,220.6 752,224.4" fill="none" stroke="#555" stroke-width="1.1"/>
<text x="737.25" y="218.00" font-size="9.6" text-anchor="middle" fill="#3a3a3a" stroke="#3a3a3a" stroke-width="0.1" font-weight="normal" font-style="normal">ns</text>
<text x="667.80" y="334.20" font-size="10.6" text-anchor="middle" fill="#3a3a3a" stroke="#3a3a3a" stroke-width="0.3" font-weight="normal" font-style="normal">Basal</text>
<text x="692.20" y="334.20" font-size="10.6" text-anchor="middle" fill="#3a3a3a" stroke="#3a3a3a" stroke-width="0.3" font-weight="normal" font-style="normal">Cu</text>
<text x="723.40" y="334.20" font-size="10.6" text-anchor="middle" fill="#3a3a3a" stroke="#3a3a3a" stroke-width="0.3" font-weight="normal" font-style="normal">Basal</text>
<text x="751.40" y="334.20" font-size="10.6" text-anchor="middle" fill="#3a3a3a" stroke="#3a3a3a" stroke-width="0.3" font-weight="normal" font-style="normal">Cu</text>
<text x="679.10" y="196.20" font-size="9.4" text-anchor="middle" fill="#5870c4" stroke="#5870c4" stroke-width="0.2" font-weight="normal" font-style="italic">Model 1</text>
<text x="667.70" y="207.90" font-size="9.4" text-anchor="end" fill="#5870c4" stroke="#5870c4" stroke-width="0.2" font-weight="normal" font-style="italic">(T</text>
<path d="M668.40,204.50H675.60M673.30,201.60L676.20,204.50L673.30,207.40" fill="none" stroke="#5870c4" stroke-width="1.25" stroke-linejoin="miter"/>
<text x="676.70" y="207.90" font-size="9.4" text-anchor="start" fill="#5870c4" stroke="#5870c4" stroke-width="0.2" font-weight="normal" font-style="italic">M+D)</text>
<text x="738.30" y="196.20" font-size="9.4" text-anchor="middle" fill="#f04858" stroke="#f04858" stroke-width="0.2" font-weight="normal" font-style="italic">Model 2</text>
<text x="728.40" y="207.90" font-size="9.4" text-anchor="end" fill="#f04858" stroke="#f04858" stroke-width="0.2" font-weight="normal" font-style="italic">(T</text>
<path d="M729.40,204.40H737.10M735.00,201.70L737.70,204.40L735.00,207.10" fill="none" stroke="#f04858" stroke-width="1.1" stroke-linejoin="miter"/>
<text x="739.60" y="207.90" font-size="9.4" text-anchor="start" fill="#f04858" stroke="#f04858" stroke-width="0.2" font-weight="normal" font-style="italic">3M)</text>
</svg>
</body></html>
